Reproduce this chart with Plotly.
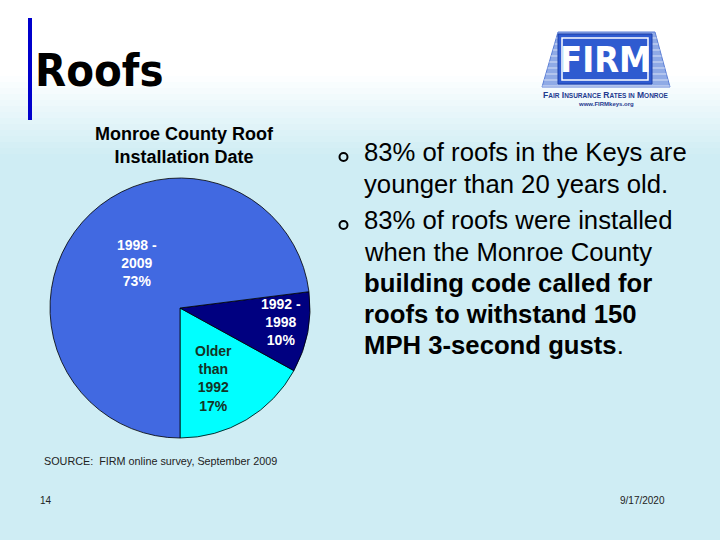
import plotly.graph_objects as go

W, H = 720, 540

# pie data
slice_names = ['Older than 1992', '1992 - 1998', '1998 - 2009']
slice_values = [17, 10, 73]
slice_colors = ['#00FFFF', '#000080', '#4169E1']
slice_labels = ['Older<br>than<br>1992<br>17%', '1992 -<br>1998<br>10%', '1998 -<br>2009<br>73%']
label_colors = ['#143326', '#FFFFFF', '#FFFFFF']

bullets = [
    ['83% of roofs in the Keys are', 'younger than 20 years old.'],
    ['83% of roofs were installed', 'when the Monroe County',
     '<b>building code called for</b>', '<b>roofs to withstand 150</b>',
     '<b>MPH 3-second gusts</b>.'],
]


def px(x, y):
    return x / W, 1 - y / H


fig = go.Figure()

fig.add_trace(go.Pie(
    labels=slice_names,
    values=slice_values,
    sort=False,
    direction='counterclockwise',
    rotation=118.8,
    marker=dict(colors=slice_colors, line=dict(color='#000000', width=0.8)),
    textinfo='none',
    hoverinfo='label+percent',
    showlegend=False,
    domain=dict(x=[50 / W, 310 / W], y=[1 - 438 / H, 1 - 178 / H]),
))

shapes = []
# top fade from white into the pale sea background
for i in range(14):
    y0 = 70 + i * 6
    shapes.append(dict(type='rect', xref='paper', yref='paper', layer='below',
                       x0=0, x1=1, y0=1 - (y0 + 6) / H, y1=1 - y0 / H,
                       fillcolor='white', opacity=max(0.0, 1 - i / 14),
                       line=dict(width=0)))
shapes.append(dict(type='rect', xref='paper', yref='paper', layer='below',
                   x0=0, x1=1, y0=1 - 70 / H, y1=1,
                   fillcolor='white', line=dict(width=0)))
# title bar
shapes.append(dict(type='rect', xref='paper', yref='paper',
                   x0=28 / W, x1=32 / W, y0=1 - 120 / H, y1=1 - 18 / H,
                   fillcolor='#0000CC', line=dict(width=0)))

# FIRM logo: roof shape, bricks, sign
roof = 'M {} {} L {} {} L {} {} L {} {} Z'.format(
    *px(542, 87), *px(558, 32), *px(655, 32), *px(670, 87))
shapes.append(dict(type='path', xref='paper', yref='paper', path=roof,
                   fillcolor='#8FAAE6', line=dict(color='#5C7FD6', width=1)))
for yy in range(38, 87, 6):
    shapes.append(dict(type='line', xref='paper', yref='paper',
                       x0=(558 - (yy - 32) * 16 / 55) / W, x1=(655 + (yy - 32) * 15 / 55) / W,
                       y0=1 - yy / H, y1=1 - yy / H,
                       line=dict(color='#D6E0F6', width=1)))
shapes.append(dict(type='rect', xref='paper', yref='paper',
                   x0=558 / W, x1=652 / W, y0=1 - 84 / H, y1=1 - 34 / H,
                   fillcolor='#2F5BD0', line=dict(color='#1C3FA8', width=1)))
shapes.append(dict(type='rect', xref='paper', yref='paper',
                   x0=562 / W, x1=648 / W, y0=1 - 80 / H, y1=1 - 38 / H,
                   fillcolor='rgba(0,0,0,0)', line=dict(color='white', width=1.5)))
# bullets
for by in [157, 225]:
    shapes.append(dict(type='circle', xref='paper', yref='paper',
                       x0=339.5 / W, x1=347.5 / W, y0=1 - (by + 4) / H, y1=1 - (by - 4) / H,
                       line=dict(color='#000000', width=2)))

annotations = []


def note(text, x, y, size, color='#000000', family='Liberation Sans, Arial, sans-serif',
         xanchor='left', align='left'):
    ax, ay = px(x, y)
    annotations.append(dict(text=text, x=ax, y=ay, xref='paper', yref='paper',
                            xanchor=xanchor, yanchor='middle', align=align,
                            showarrow=False,
                            font=dict(size=size, color=color, family=family)))


narrow = 'DejaVu Sans Condensed, Liberation Sans Narrow, sans-serif'
note('<b>Roofs</b>', 33, 70, 45, family=narrow)
note('<b>FIRM</b>', 605, 59, 36, color='white', xanchor='center', align='center', family=narrow)
note('<b>F<span style="font-size:6.5px">AIR</span> I<span style="font-size:6.5px">NSURANCE</span> '
     'R<span style="font-size:6.5px">ATES IN</span> M<span style="font-size:6.5px">ONROE</span></b>',
     606, 95, 8.5, color='#1F3A8F', xanchor='center', align='center')
note('<b>www.FIRMkeys.org</b>', 606, 104, 6, color='#1F3A8F', xanchor='center', align='center')

note('<b>Monroe County Roof<br>Installation Date</b>', 185, 145, 18, xanchor='center', align='center')

label_pos = [(213, 378), (281, 322), (137, 263)]
for txt, col, (lx, ly) in zip(slice_labels, label_colors, label_pos):
    note('<b>' + txt + '</b>', lx, ly, 14, color=col, xanchor='center', align='center')

line_y = [[152, 184], [220, 252, 283, 314, 345]]
for para, ys in zip(bullets, line_y):
    for line, yy in zip(para, ys):
        note(line, 362, yy, 25.7)

note('SOURCE:  FIRM online survey, September 2009', 42, 461, 10.8, color='#222222')
note('14', 38, 500, 10, color='#222222')
note('9/17/2020', 667, 500, 10, color='#222222', xanchor='right', align='right')

fig.update_layout(
    width=W, height=H,
    margin=dict(l=0, r=0, t=0, b=0),
    paper_bgcolor='#CFEDF4',
    plot_bgcolor='#CFEDF4',
    shapes=shapes,
    annotations=annotations,
)

fig.write_html('out.html', config={'displayModeBar': False},
               post_script="document.body.style.margin='0';")
